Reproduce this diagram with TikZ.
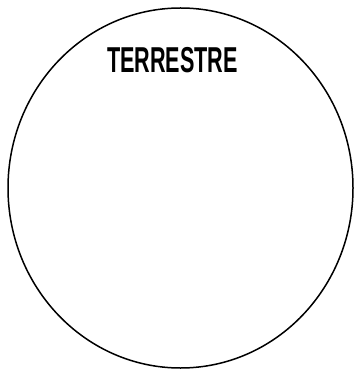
\documentclass[tikz,border=0pt]{standalone}
\usepackage{fontspec}
\setmainfont{Liberation Sans}
\begin{document}
\begin{tikzpicture}[x=1pt,y=-1pt]
  \useasboundingbox (0,0) rectangle (354,371);
  % the earth, drawn as a slightly tall ellipse
  \draw[line width=1.5pt] (180.5,188) ellipse (172.5 and 180);
  \node[xscale=0.6,inner sep=0pt] (terrestre) at (172.5,60)
    {\fontsize{36}{40}\selectfont\bfseries TERRESTRE};
\end{tikzpicture}
\end{document}
